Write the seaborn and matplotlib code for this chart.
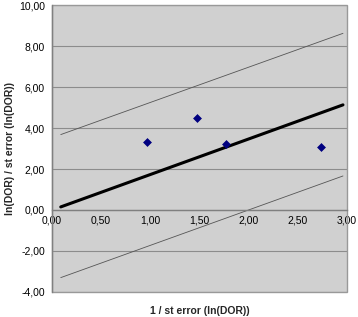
import matplotlib
matplotlib.use("Agg")
import matplotlib.pyplot as plt
import matplotlib.patches as mpatches
from matplotlib.ticker import FuncFormatter
import pandas as pd
import seaborn as sns

# studies: precision vs standardised effect
precision = [0.97, 1.48, 1.77, 2.74]
z_score = [3.30, 4.50, 3.22, 3.05]

# regression line and its confidence band (drawn between the two x ends)
line_x = [0.09, 2.96]
fit_y = [0.15, 5.13]
upper_y = [3.68, 8.62]
lower_y = [-3.30, 1.66]

x_ticks = [0.0, 0.5, 1.0, 1.5, 2.0, 2.5, 3.0]
y_ticks = [-4, -2, 0, 2, 4, 6, 8, 10]

sns.set_theme(style="white")
plt.rcParams["font.family"] = ["Liberation Sans", "DejaVu Sans"]

fig = plt.figure(figsize=(3.58, 3.17), dpi=100)
ax = fig.add_axes([0.145, 0.079, 0.824, 0.905])
ax.set_facecolor("#d0d0d0")

pts = pd.DataFrame({"x": precision, "y": z_score})
lines = pd.DataFrame({"x": line_x, "fit": fit_y, "up": upper_y, "lo": lower_y})

sns.lineplot(data=lines, x="x", y="up", color="#555555", linewidth=0.6, ax=ax)
sns.lineplot(data=lines, x="x", y="lo", color="#555555", linewidth=0.6, ax=ax)
sns.lineplot(data=lines, x="x", y="fit", color="black", linewidth=2.2, ax=ax)
sns.scatterplot(data=pts, x="x", y="y", marker="D", s=16, color="#000080",
                edgecolor="#000080", linewidth=0.5, ax=ax, zorder=5)

ax.set_xlim(0, 3)
ax.set_ylim(-4, 10)
ax.set_xticks(x_ticks)
ax.set_yticks(y_ticks)
fmt = FuncFormatter(lambda v, p: f"{v:.2f}".replace(".", ","))
ax.xaxis.set_major_formatter(fmt)
ax.yaxis.set_major_formatter(fmt)

ax.grid(axis="y", color="#8c8c8c", linewidth=0.8)
ax.set_axisbelow(True)

for s in ["top", "right"]:
    ax.spines[s].set_visible(False)
ax.spines["left"].set_color("#808080")
ax.spines["left"].set_linewidth(1.0)
ax.spines["bottom"].set_position(("data", 0))
ax.spines["bottom"].set_color("#808080")
ax.spines["bottom"].set_linewidth(1.0)

# plot-area border
ax.add_patch(mpatches.Rectangle((0, 0), 1, 1, transform=ax.transAxes, fill=False,
                                edgecolor="#999999", linewidth=1.0, zorder=1, clip_on=False))

ax.tick_params(axis="both", labelsize=7.5, colors="black", length=3, width=0.8,
               direction="out", color="#808080", pad=2)
ax.tick_params(axis="x", direction="in", pad=4)

ax.set_xlabel("1 / st error (ln(DOR))", fontsize=7.5, fontweight="bold", va="center")
ax.set_ylabel("ln(DOR) / st error (ln(DOR))", fontsize=7.5, fontweight="bold", va="center")
ax.xaxis.set_label_coords(0.5, -0.068)
ax.yaxis.set_label_coords(-0.142, 0.5)

fig.savefig("out.png", dpi=100)
